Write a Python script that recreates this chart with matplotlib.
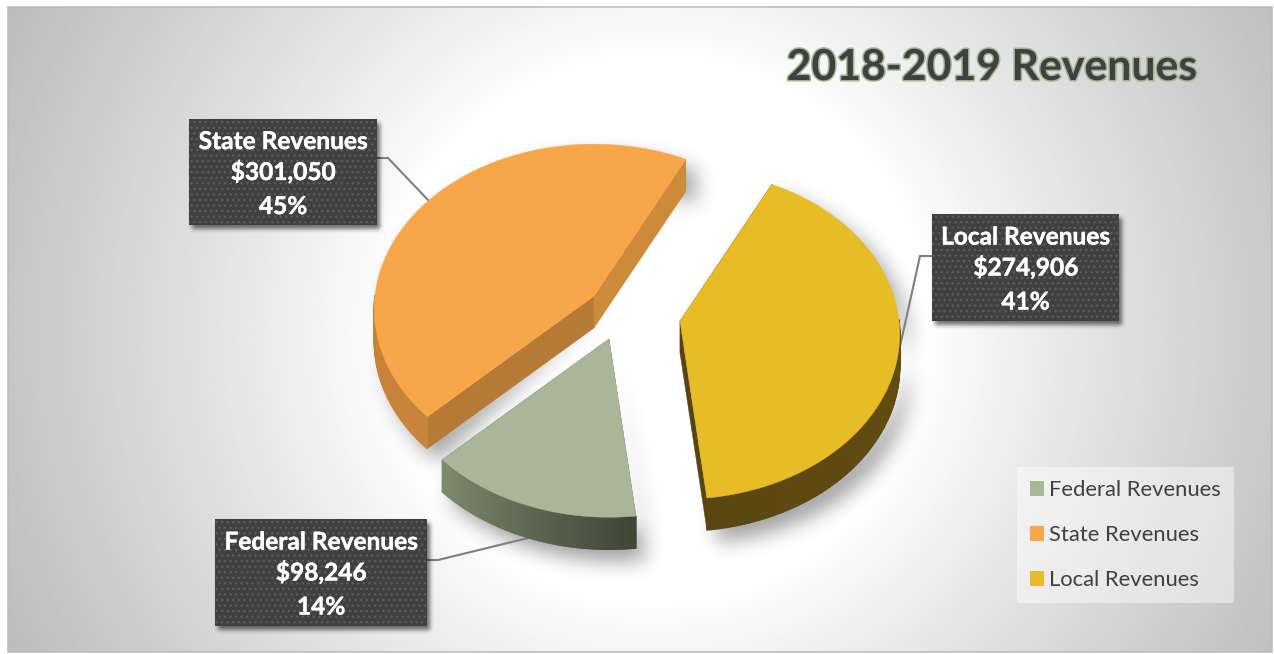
import numpy as np
import matplotlib
matplotlib.use("Agg")
import matplotlib.pyplot as plt
from matplotlib.figure import Figure
from matplotlib.backends.backend_agg import FigureCanvasAgg
from matplotlib.patches import Rectangle, Patch
import matplotlib.patheffects as pe
from matplotlib.colors import to_rgb

# ---- data ----
categories = ["Federal Revenues", "State Revenues", "Local Revenues"]
revenues = [98246, 301050, 274906]
percent_labels = ["14%", "45%", "41%"]
title_text = "2018-2019 Revenues"

# ---- style / layout ----
top_colors = ["#A9B798", "#F7A649", "#E8BC27"]
rim_from = ["#3F4537", "#C8843A", "#6A5312"]
rim_to = ["#7F8B6F", "#BF7E33", "#5A4610"]
cut_colors = ["#5A6450", "#B57A35", "#57440F"]
START_DEG = -83.5          # Federal slice starts here and runs clockwise
CENTER = np.array([633.0, 315.0])
OFFSETS = {"Federal Revenues": (-24, 24), "State Revenues": (-39, -19), "Local Revenues": (47, 6)}
A, B, K, DEPTH = 219.0, 164.0, 0.08, 32.0
BOXES = {"Federal Revenues": (215, 519, 427, 626), "State Revenues": (189, 119, 377, 225),
         "Local Revenues": (932, 214, 1119, 321)}
LEADERS = {"Federal Revenues": ([427, 438, 528], [560, 560, 538]),
           "State Revenues": ([377, 388, 428], [158, 158, 200]),
           "Local Revenues": ([932, 920, 893], [256, 256, 378])}
W, H = 1274, 654

plt.rcParams["font.family"] = ["Lato", "DejaVu Sans"]
fig = plt.figure(figsize=(12.74, 6.54), dpi=100, facecolor="white")
ax = fig.add_axes([0, 0, 1, 1])

# background gradient
xx, yy = np.meshgrid(np.linspace(8, 1272, 632), np.linspace(7, 652, 323))
r = np.hypot(xx - 655, yy - 330)
g = 1 - 0.26 * np.clip((r - 270) / 446, 0, 1) ** 0.9
ax.imshow(g, cmap="gray", vmin=0, vmax=1, extent=(8, 1272, 652, 7), aspect="auto",
          interpolation="bilinear", zorder=0)
ax.add_patch(Rectangle((8, 7), 1264, 645, fill=False, ec="#BDBDBD", lw=1.2, zorder=1))


def project(theta, apex):
    u, v = np.cos(theta), np.sin(theta)
    w = 1 + K * v
    return apex[0] + A * u / w, apex[1] - B * v / w


def blur(img, sigma):
    rad = int(3 * sigma)
    k = np.exp(-0.5 * (np.arange(-rad, rad + 1) / sigma) ** 2)
    k /= k.sum()
    kx = np.zeros(img.shape[1]); kx[:rad + 1] = k[rad:]; kx[-rad:] = k[:rad]
    ky = np.zeros(img.shape[0]); ky[:rad + 1] = k[rad:]; ky[-rad:] = k[:rad]
    f = np.fft.fft2(img) * np.fft.fft(kx)[None, :] * np.fft.fft(ky)[:, None]
    return np.real(np.fft.ifft2(f))


def soft_shadow(polys, dx, dy, sigma, strength, zorder):
    mf = Figure(figsize=(W / 100, H / 100), dpi=100)
    canvas = FigureCanvasAgg(mf)
    m = mf.add_axes([0, 0, 1, 1])
    m.set_xlim(0, W); m.set_ylim(H, 0); m.axis("off")
    for px, py in polys:
        m.fill(np.asarray(px) + dx, np.asarray(py) + dy, color="black", lw=0)
    canvas.draw()
    mask = 1 - np.asarray(canvas.buffer_rgba())[..., 0] / 255.0
    mask = blur(mask, sigma)
    rgba = np.zeros(mask.shape + (4,))
    rgba[..., 3] = np.clip(mask, 0, 1) * strength
    ax.imshow(rgba, extent=(0, W, H, 0), aspect="auto", interpolation="bilinear", zorder=zorder)


fracs = np.array(revenues, dtype=float) / np.sum(revenues)
sweeps = np.radians(fracs * 360)
starts = np.radians(START_DEG) - np.concatenate(([0], np.cumsum(sweeps)[:-1]))

shapes = []
for i, cat in enumerate(categories):
    apex = CENTER + np.array(OFFSETS[cat])
    th = np.linspace(starts[i], starts[i] - sweeps[i], 160)
    rx, ry = project(th, apex)
    shapes.append((apex, th, rx, ry))

# soft drop shadows
soft_shadow([(np.concatenate(([a[0]], rx, rx[::-1])), np.concatenate(([a[1]], ry, ry[::-1] + DEPTH)))
             for a, th, rx, ry in shapes], 10, 12, 10, 0.38, 2)
soft_shadow([([BOXES[c][0], BOXES[c][2], BOXES[c][2], BOXES[c][0]],
              [BOXES[c][1], BOXES[c][1], BOXES[c][3], BOXES[c][3]]) for c in categories],
            3, 4, 2.2, 0.55, 6)

# leaders sit behind the slices
for cat in categories:
    lx, ly = LEADERS[cat]
    ax.plot(lx, ly, color="#7F7F7F", lw=1.5, zorder=2.5, solid_joinstyle="miter")

# slices
for i, cat in enumerate(categories):
    apex, th, rx, ry = shapes[i]
    z = 3
    c0, c1 = np.array(to_rgb(rim_from[i])), np.array(to_rgb(rim_to[i]))
    for ex, ey in ((rx[0], ry[0]), (rx[-1], ry[-1])):
        ax.fill([apex[0], ex, ex, apex[0]], [apex[1], ey, ey + DEPTH, apex[1] + DEPTH],
                color=cut_colors[i] if not (cat == "State Revenues" and ex > apex[0]) else "#CC8A3A",
                lw=0.3, zorder=z)
    for j in range(len(th) - 1):
        if np.sin(th[j]) > 0 and np.sin(th[j + 1]) > 0:
            continue  # far side of the rim is hidden
        t = j / (len(th) - 1)
        col = c0 + (c1 - c0) * t
        ax.fill([rx[j], rx[j + 1], rx[j + 1], rx[j]],
                [ry[j], ry[j + 1], ry[j + 1] + DEPTH, ry[j] + DEPTH],
                color=col, lw=1.0, zorder=z)
    ax.fill(np.concatenate(([apex[0]], rx)), np.concatenate(([apex[1]], ry)),
            color=top_colors[i], lw=0.3, zorder=z + 1)

# data labels
for i, cat in enumerate(categories):
    x0, y0, x1, y1 = BOXES[cat]
    cx, cy = (x0 + x1) / 2, (y0 + y1) / 2
    ax.add_patch(Rectangle((x0, y0), x1 - x0, y1 - y0, fc="#404040", ec="none", zorder=7))
    ax.add_patch(Rectangle((x0, y0), x1 - x0, y1 - y0, fc="none", ec="#5C5C5C", lw=0,
                           hatch="...", zorder=7.5))
    lines = [cat, f"${revenues[i]:,}", percent_labels[i]]
    for line, off in zip(lines, (-23, 8, 42)):
        ax.text(cx, cy + off, line, color="white", fontsize=17.6, fontweight="bold",
                ha="center", va="baseline", zorder=8,
                path_effects=[pe.withStroke(linewidth=0.3, foreground="white")])

# title
ax.text(992, 80, title_text, color="#404040", fontsize=30.8, fontweight="bold",
        ha="center", va="baseline", zorder=8,
        path_effects=[pe.withStroke(linewidth=2.2, foreground="#A3B58F")])

ax.set_xlim(0, W)
ax.set_ylim(H, 0)
ax.axis("off")

# legend
handles = [Patch(fc=c, ec="none", label=n) for c, n in zip(top_colors, categories)]
leg = ax.legend(handles=handles, loc="upper left", bbox_to_anchor=(1017 / W, 1 - 467 / H),
                bbox_transform=fig.transFigure, frameon=True, fancybox=False, framealpha=0.45,
                facecolor="white", edgecolor="none", fontsize=15.8, labelcolor="#404040",
                handlelength=0.64, handleheight=0.64, handletextpad=0.22, labelspacing=1.14,
                borderpad=0.6, borderaxespad=0)
leg.set_zorder(9)

fig.savefig("out.png", dpi=100)
